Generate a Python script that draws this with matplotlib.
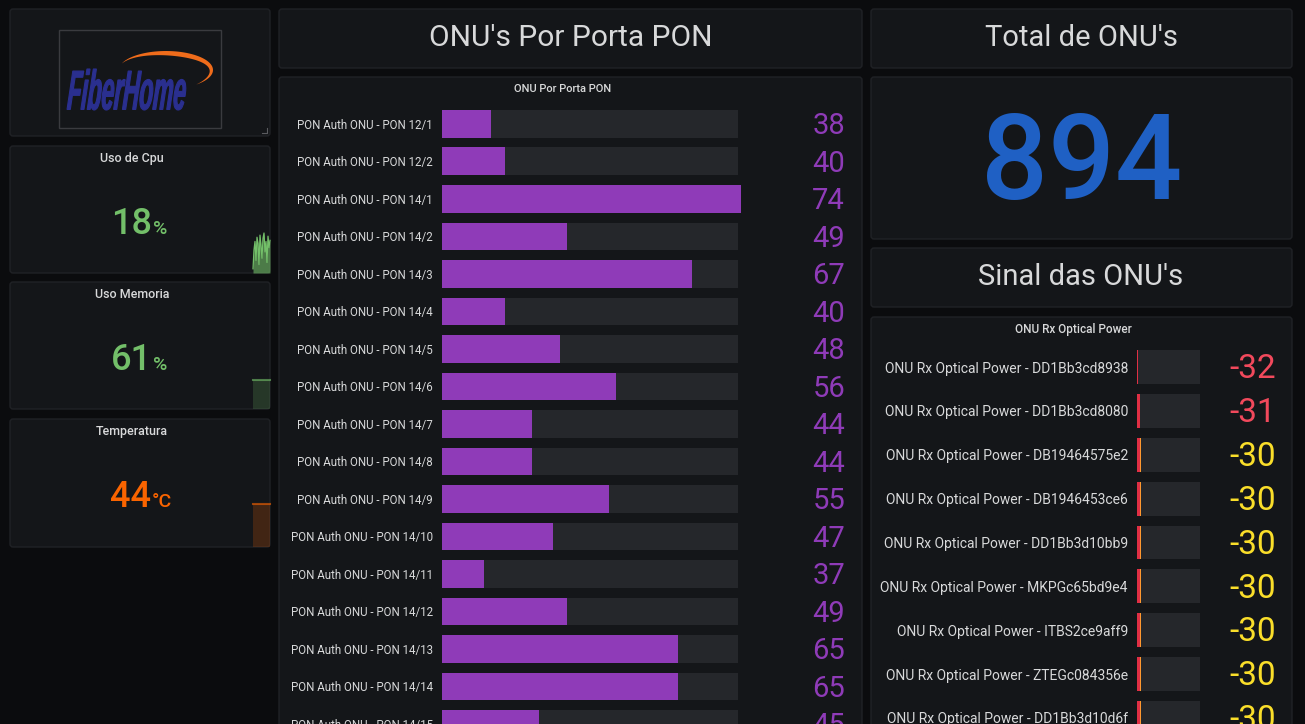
import numpy as np
import matplotlib
matplotlib.use("Agg")
import matplotlib.pyplot as plt
from matplotlib.patches import FancyBboxPatch, PathPatch, Polygon
from matplotlib.textpath import TextPath
from matplotlib.font_manager import FontProperties
from matplotlib.transforms import Affine2D

plt.rcParams['font.family'] = ['Roboto', 'DejaVu Sans']

# single stats
cpu_usage = 18
mem_usage = 61
temperature = 44
total_onus = 894

# sparklines behind the single stats
cpu_history = [4, 22, 30, 12, 34, 28, 8, 36, 26, 14, 33, 38, 20, 30, 10, 35, 24, 31]
mem_history = [61, 61, 61, 61, 61]
temp_history = [44, 44, 44, 44, 44]

# ONU's per PON port
pon_ports = ['PON Auth ONU - PON 12/1', 'PON Auth ONU - PON 12/2', 'PON Auth ONU - PON 14/1',
             'PON Auth ONU - PON 14/2', 'PON Auth ONU - PON 14/3', 'PON Auth ONU - PON 14/4',
             'PON Auth ONU - PON 14/5', 'PON Auth ONU - PON 14/6', 'PON Auth ONU - PON 14/7',
             'PON Auth ONU - PON 14/8', 'PON Auth ONU - PON 14/9', 'PON Auth ONU - PON 14/10',
             'PON Auth ONU - PON 14/11', 'PON Auth ONU - PON 14/12', 'PON Auth ONU - PON 14/13',
             'PON Auth ONU - PON 14/14', 'PON Auth ONU - PON 14/15']
pon_onus = [38, 40, 74, 49, 67, 40, 48, 56, 44, 44, 55, 47, 37, 49, 65, 65, 45]
pon_min, pon_max = 31, 73.6

# ONU Rx optical power
rx_onus = ['DD1Bb3cd8938', 'DD1Bb3cd8080', 'DB19464575e2', 'DB1946453ce6', 'DD1Bb3d10bb9',
           'MKPGc65bd9e4', 'ITBS2ce9aff9', 'ZTEGc084356e', 'DD1Bb3d10d6f']
rx_power = [-32, -31, -30, -30, -30, -30, -30, -30, -30]
rx_min, rx_max = -32.7, 9.3
rx_red_limit = -31

PAGE = '#0b0c0e'
PANEL = '#141619'
BORDER = '#202226'
TRACK = '#25272b'
TEXT = '#d8d9da'
GREEN = '#73bf69'
ORANGE = '#fa6400'
PURPLE = '#8f3bb8'
BLUE = '#1f60c4'
RED = '#f2495c'
YELLOW = '#fade2a'

W, H = 1305, 724
fig = plt.figure(figsize=(W / 100, H / 100), dpi=100, facecolor=PAGE)
bg = fig.add_axes([0, 0, 1, 1])
bg.set_xlim(0, W)
bg.set_ylim(H, 0)
bg.axis('off')


def panel(x0, y0, x1, y1):
    bg.add_patch(FancyBboxPatch((x0, y0), x1 - x0, y1 - y0,
                                boxstyle='round,pad=0,rounding_size=3',
                                fc=PANEL, ec=BORDER, lw=1))


def sub_axes(x0, y0, x1, y1):
    ax = fig.add_axes([x0 / W, 1 - y1 / H, (x1 - x0) / W, (y1 - y0) / H])
    ax.patch.set_visible(False)
    for s in ax.spines.values():
        s.set_visible(False)
    ax.set_xticks([])
    ax.set_yticks([])
    return ax


# ---- left column ----
panel(10, 9, 270, 136)
bg.add_patch(FancyBboxPatch((59, 30), 162, 98, boxstyle='square,pad=0', fc=PANEL, ec='#3a3b3f', lw=1))
fp = FontProperties(family='Liberation Sans', weight='bold', style='italic')
tp = TextPath((0, 0), 'FiberHome', size=100, prop=fp)
bb = tp.get_extents()
tr = Affine2D().translate(-bb.x0, -bb.y0).skew_deg(10, 0).scale(122 / (bb.width * 1.04), -41 / bb.height).translate(67, 110)
bg.add_patch(PathPatch(tr.transform_path(tp), fc='#2a2f8f', ec='#2a2f8f', lw=0.8))
t = np.linspace(np.radians(160), np.radians(-50), 60)
w = 5 * np.sin(np.pi * np.linspace(0, 1, 60))
outer = np.column_stack([166 + 47 * np.cos(t), 70 - 19 * np.sin(t)])
inner = np.column_stack([166 + (47 - w) * np.cos(t), 70 - (19 - w) * np.sin(t)])
bg.add_patch(Polygon(np.vstack([outer, inner[::-1]]), closed=True, fc='#ef6c1b', ec='none'))
bg.plot([262, 267, 267], [133, 133, 128], color='#5a5b5f', lw=0.8)

stats = [
    ('Uso de Cpu', 146, 273, cpu_usage, '%', GREEN, cpu_history, 233, 153, 0.6),
    ('Uso Memoria', 282, 409, mem_usage, '%', GREEN, mem_history, 380, 153, 0.2),
    ('Temperatura', 419, 547, temperature, '°C', ORANGE, temp_history, 504, 152, 0.2),
]
for title, y0, y1, value, unit, color, hist, spark_top, unit_x, fill_alpha in stats:
    panel(10, y0, 270, y1)
    bg.text(132, y0 + 12.5, title, ha='center', va='center', fontsize=9, fontweight='medium', color=TEXT)
    bg.text(unit_x - 1, y0 + 88, str(value), ha='right', va='baseline', fontsize=26,
            fontweight='medium', color=color)
    bg.text(unit_x, y0 + 88, unit, ha='left', va='baseline', fontsize=14, fontweight='medium', color=color)
    sp = sub_axes(253, spark_top, 270, y1)
    xs = np.arange(len(hist))
    sp.set_xlim(0, len(hist) - 1)
    sp.set_ylim(0, max(hist))
    sp.fill_between(xs, hist, color=color, alpha=fill_alpha, lw=0)
    sp.plot(xs, hist, color=color, lw=0.9 if fill_alpha > 0.5 else 1.5,
            alpha=1 if fill_alpha > 0.5 else 0.6, clip_on=False)

# ---- middle column ----
panel(279, 9, 862, 68)
bg.text(571, 38, "ONU's Por Porta PON", ha='center', va='center', fontsize=21.5, color=TEXT)
panel(279, 77, 862, 760)
bg.text(563, 89, 'ONU Por Porta PON', ha='center', va='center', fontsize=8, fontweight='medium', color=TEXT)

pitch = 37.625
ax = sub_axes(442, 77, 741, 724)
rows = np.arange(len(pon_onus))
ax.set_xlim(pon_min, pon_min + 299 / 6.95)
ax.set_ylim((724 - 124) / pitch, (77 - 124) / pitch)
ax.barh(rows, pon_max - pon_min, left=pon_min, height=0.74, color=TRACK)
ax.barh(rows, [v - pon_min for v in pon_onus], left=pon_min, height=0.74, color=PURPLE)
ax.set_yticks(rows, pon_ports)
ax.tick_params(axis='y', length=0, pad=6.5, labelsize=8.3, labelcolor=TEXT)
for i, v in enumerate(pon_onus):
    ax.text(1.348, i + 0.06, str(v), transform=ax.get_yaxis_transform(), ha='right', va='center',
            fontsize=21, color=PURPLE)

# ---- right column ----
panel(871, 9, 1292, 68)
bg.text(1081, 38, "Total de ONU's", ha='center', va='center', fontsize=21, color=TEXT)
panel(871, 77, 1292, 239)
bg.text(1082, 167, str(total_onus), ha='center', va='center', fontsize=85, fontweight='medium', color=BLUE)
panel(871, 248, 1292, 307)
bg.text(1081, 277, "Sinal das ONU's", ha='center', va='center', fontsize=21, color=TEXT)
panel(871, 317, 1292, 760)
bg.text(1073, 329, 'ONU Rx Optical Power', ha='center', va='center', fontsize=8.5, fontweight='medium', color=TEXT)

rpitch = 43.875
rx = sub_axes(1137, 317, 1200, 724)
rrows = np.arange(len(rx_power))
rx.set_xlim(rx_min, rx_max)
rx.set_ylim((724 - 367) / rpitch, (317 - 367) / rpitch)
rx.barh(rrows, rx_max - rx_min, left=rx_min, height=0.77, color=TRACK)
rx.barh(rrows, [v - rx_min for v in rx_power], left=rx_min, height=0.77, color='#e02f44')
for i, v in enumerate(rx_power):
    if v > rx_red_limit:
        rx.barh(i, 0.6, left=v - 0.6, height=0.77, color='#ff9830')
rx.set_yticks(rrows, ['ONU Rx Optical Power - ' + n for n in rx_onus])
rx.tick_params(axis='y', length=0, pad=6.5, labelsize=10, labelcolor=TEXT)
for i, v in enumerate(rx_power):
    rx.text(2.206, i + 0.05, str(v), transform=rx.get_yaxis_transform(), ha='right', va='center',
            fontsize=24, color=RED if v <= rx_red_limit else YELLOW)

fig.savefig('out.png', dpi=100, facecolor=PAGE)
